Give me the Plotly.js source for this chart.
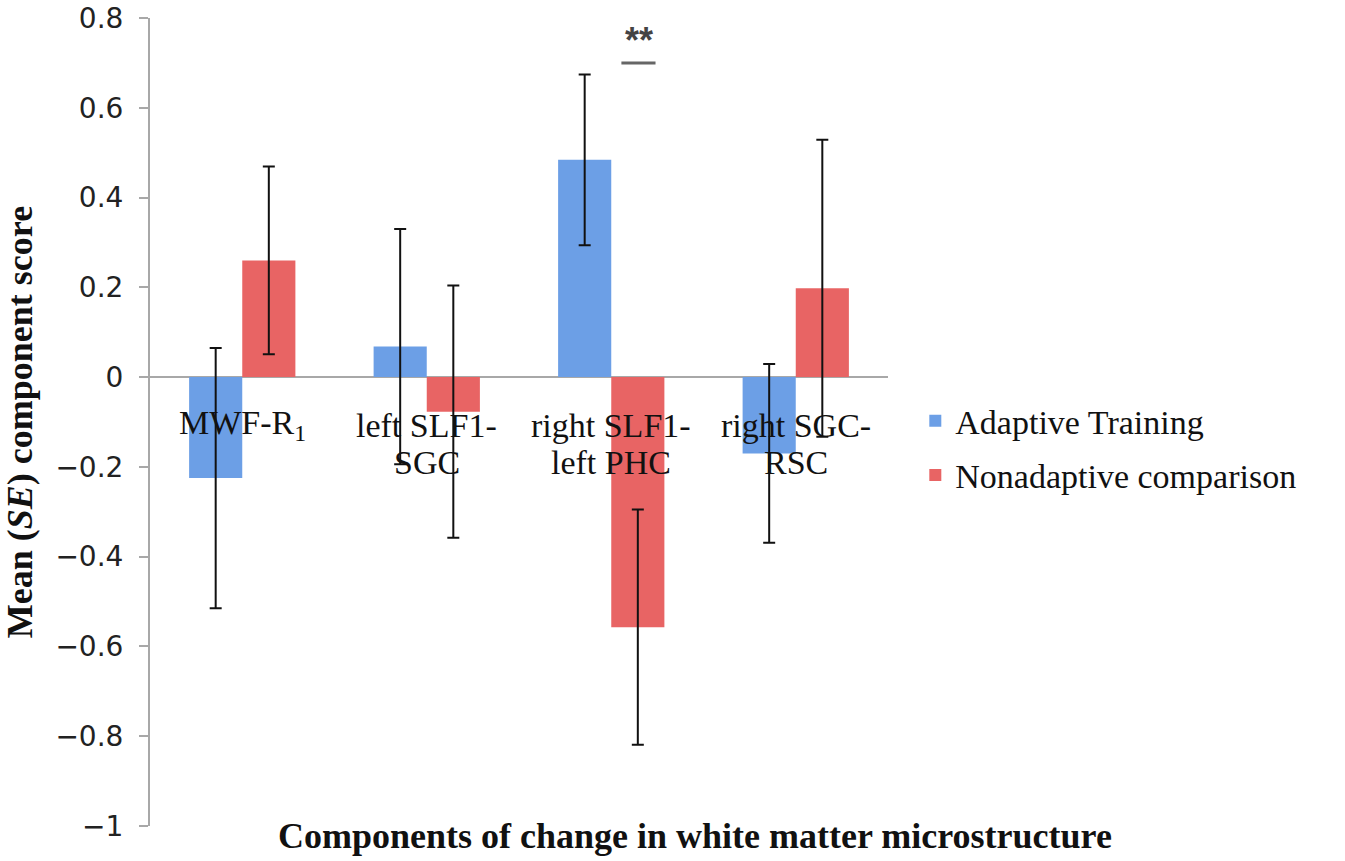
<!DOCTYPE html>
<html>
<head>
<meta charset="utf-8">
<script src="https://cdn.plot.ly/plotly-3.0.1.min.js"></script>
<style>html,body{margin:0;padding:0;background:#fff;}#chart{width:1345px;height:861px;}</style>
</head>
<body>
<div id="chart"></div>
<script>
// ---- data ----
const categories = ["MWF-R<sub>1</sub>", "left SLF1-<br>SGC", "right SLF1-<br>left PHC", "right SGC-<br>RSC"];
const seriesNames = ["Adaptive Training", "Nonadaptive comparison"];
const adaptiveMean = [-0.225, 0.068, 0.484, -0.170];
const adaptiveSE   = [0.290, 0.262, 0.190, 0.199];
const nonadaptiveMean = [0.260, -0.077, -0.557, 0.198];
const nonadaptiveSE   = [0.209, 0.281, 0.262, 0.331];
const yTickValues = [0.8, 0.6, 0.4, 0.2, 0, -0.2, -0.4, -0.6, -0.8, -1];
const significanceLabel = "**";
const significanceCategoryIndex = 2;

const xIdx = categories.map((c, i) => i);
const serif = "Liberation Serif, Times New Roman, serif";

const traces = [
  {
    type: "bar", name: seriesNames[0], x: xIdx, y: adaptiveMean,
    marker: {color: "#6C9FE6", line: {width: 0}},
    error_y: {type: "data", array: adaptiveSE, visible: true, color: "#111", thickness: 2, width: 6},
    legendgroup: "a"
  },
  {
    type: "bar", name: seriesNames[1], x: xIdx, y: nonadaptiveMean,
    marker: {color: "#E86464", line: {width: 0}},
    error_y: {type: "data", array: nonadaptiveSE, visible: true, color: "#111", thickness: 2, width: 6},
    legendgroup: "b"
  }
];

// category labels placed just under the zero line
const annotations = [];
categories.forEach((c, i) => {
  c.split("<br>").forEach((line, k) => {
    annotations.push({
      x: i, y: 0, xref: "x", yref: "y", text: line, showarrow: false,
      xanchor: "center", yanchor: "middle", yshift: -48 - 37 * k,
      font: {family: serif, size: 34, color: "#111"}
    });
  });
});
// significance marker
annotations.push({
  x: significanceCategoryIndex + 0.15, y: 0.70, xref: "x", yref: "y", text: "<b>" + significanceLabel + "</b>",
  showarrow: false, yanchor: "bottom", yshift: 0,
  font: {family: "Liberation Sans, Arial, sans-serif", size: 36, color: "#444"}
});
// x-axis title
annotations.push({
  x: 0.738, y: -0.012, xref: "paper", yref: "paper", showarrow: false,
  text: "<b>Components of change in white matter microstructure</b>",
  xanchor: "center", yanchor: "middle",
  font: {family: serif, size: 36, color: "#111"}
});

const shapes = [{
  type: "line", xref: "x", yref: "y",
  x0: significanceCategoryIndex + 0.055, x1: significanceCategoryIndex + 0.24, y0: 0.70, y1: 0.70,
  line: {color: "#666", width: 3}
}];

const layout = {
  width: 1345, height: 861,
  margin: {l: 150, r: 457, t: 18, b: 35},
  paper_bgcolor: "#fff", plot_bgcolor: "#fff",
  barmode: "group", bargap: 0.424, bargroupgap: 0,
  showlegend: true,
  legend: {
    x: 1.037, xanchor: "left", y: 0.537, yanchor: "top",
    font: {family: serif, size: 34, color: "#111"},
    tracegroupgap: 7, bgcolor: "rgba(0,0,0,0)"
  },
  xaxis: {
    type: "linear", range: [-0.5, 3.5], showticklabels: false, showgrid: false,
    zeroline: false, showline: false, ticks: ""
  },
  yaxis: {
    range: [-1, 0.8], tickvals: yTickValues, showgrid: false,
    zeroline: true, zerolinecolor: "#A8A8A8", zerolinewidth: 2,
    showline: true, linecolor: "#A8A8A8", linewidth: 2,
    ticks: "outside", ticklen: 9, tickcolor: "#A8A8A8", tickwidth: 2,
    ticklabelstandoff: 10,
    tickfont: {family: "DejaVu Sans, sans-serif", size: 28, color: "#222"},
    title: {text: "<b>Mean (<i>SE</i>) component score</b>", font: {family: serif, size: 36, color: "#111"}, standoff: 18}
  },
  annotations: annotations,
  shapes: shapes
};

Plotly.newPlot("chart", traces, layout, {displayModeBar: false, staticPlot: true});
</script>
</body>
</html>
